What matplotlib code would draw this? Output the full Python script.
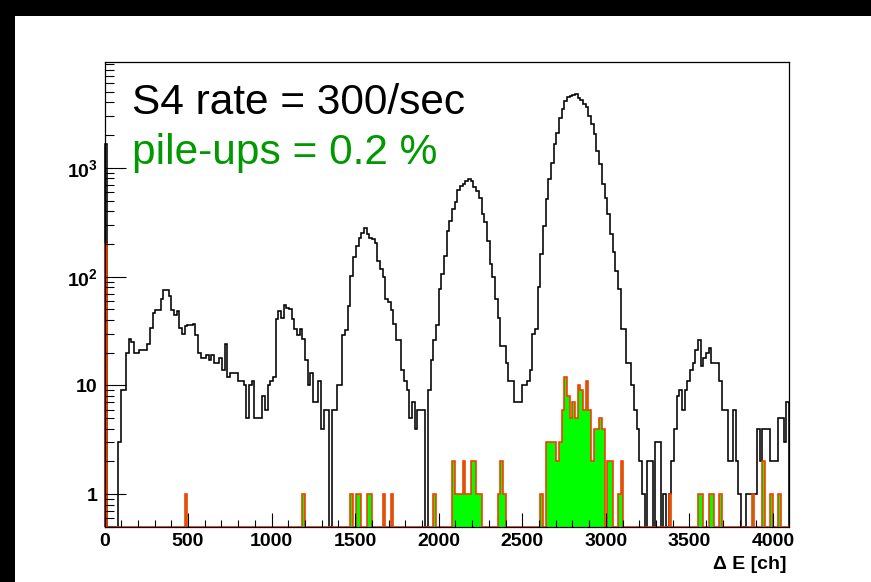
import numpy as np
import matplotlib
matplotlib.use('Agg')
import matplotlib.pyplot as plt
from matplotlib.ticker import MultipleLocator, FixedLocator, NullFormatter
from matplotlib.patches import Rectangle

plt.rcParams['font.family'] = ['Liberation Sans', 'DejaVu Sans']
plt.rcParams['mathtext.fontset'] = 'custom'
plt.rcParams['mathtext.rm'] = 'Liberation Sans:bold'
plt.rcParams['mathtext.bf'] = 'Liberation Sans:bold'
plt.rcParams['mathtext.it'] = 'Liberation Sans:bold'

# ---------------- data ----------------
bin_width = 16          # channels per bin
n_bins = 256            # 0 .. 4096 ch

# all events (black histogram), counts per bin
black_counts = [
    1650, 0, 0, 0, 0, 3, 9, 9, 20, 27, 25, 20, 20, 21, 21, 21,
    24, 34, 46, 49, 49, 62, 76, 76, 67, 49, 44, 48, 34, 30, 35, 36,
    36, 37, 29, 20, 18, 18, 19, 17, 19, 16, 16, 18, 14, 24, 12, 13,
    13, 13, 11, 11, 10, 5, 10, 11, 5, 5, 5, 8, 6, 10, 11, 12,
    41, 48, 42, 55, 52, 50, 41, 33, 29, 33, 27, 17, 10, 13, 7, 7,
    11, 4, 6, 6, 0, 6, 6, 10, 10, 29, 32, 54, 102, 152, 192, 229,
    250, 280, 247, 229, 221, 206, 140, 118, 99, 62, 58, 49, 37, 26, 26, 14,
    11, 9, 5, 7, 4, 6, 6, 6, 0, 9, 17, 26, 36, 77, 106, 156,
    261, 322, 418, 481, 630, 684, 718, 760, 790, 758, 670, 615, 527, 376, 316, 212,
    131, 99, 62, 42, 23, 23, 16, 11, 11, 7, 7, 7, 10, 10, 11, 14,
    30, 33, 80, 161, 294, 516, 787, 1119, 1649, 2110, 2856, 3455, 4119, 4481, 4550, 4677,
    4800, 4430, 4180, 3890, 3650, 3000, 2513, 2037, 1432, 1081, 709, 534, 376, 246, 167, 113,
    77, 33, 33, 16, 16, 10, 6, 4, 2, 1, 0, 2, 2, 0, 3, 3,
    0, 1, 0, 1, 2, 4, 8, 9, 6, 9, 11, 14, 16, 21, 26, 15,
    18, 20, 22, 16, 16, 16, 11, 6, 6, 2, 2, 6, 2, 1, 0, 0,
    1, 1, 1, 1, 4, 2, 4, 4, 4, 2, 2, 2, 5, 5, 3, 7,
]

# pile-up events (green histogram): bin index -> counts
pileup_bins = [0, 30, 74, 92, 94, 95, 98, 99, 104, 107, 123,
               130, 131, 132, 133, 134, 135, 136, 137, 138, 139, 140,
               147, 148, 149, 163,
               165, 166, 167, 168, 169, 170, 171, 172, 173, 174, 175, 176,
               177, 178, 179, 180, 181, 182, 183, 184, 185, 186,
               188, 189, 192, 193, 211, 222, 223, 226, 227, 230, 242, 246, 249, 252]
pileup_vals = [200, 1, 1, 1, 1, 1, 1, 1, 1, 1, 1,
               2, 1, 1, 1, 2, 1, 1, 2, 2, 1, 1,
               1, 2, 1, 1,
               3, 3, 3, 3, 2, 3, 6, 12, 8, 5, 7, 5,
               10, 9, 6, 11, 6, 2, 4, 4, 5, 4,
               2, 2, 1, 2, 1, 1, 1, 1, 1, 1, 1, 2, 1, 1]

x_tick_values = [0, 500, 1000, 1500, 2000, 2500, 3000, 3500, 4000]
y_tick_values = [1, 10, 100, 1000]
y_tick_labels = ['1', '10', r'$\mathbf{10^{2}}$', r'$\mathbf{10^{3}}$']

title_line1 = 'S4 rate = 300/sec'
title_line2 = 'pile-ups = 0.2 %'
x_title = '\u0394 E [ch]'

# ---------------- figure ----------------
W, H = 871, 582
fig = plt.figure(figsize=(W / 100, H / 100), dpi=100)
fig.patch.set_facecolor('white')

# black borders of the screenshot
top_band, left_band = 16, 15
fig.add_artist(Rectangle((0, 1 - top_band / H), 1, top_band / H, transform=fig.transFigure,
                         facecolor='black', edgecolor='none', zorder=0))
fig.add_artist(Rectangle((0, 0), left_band / W, 1, transform=fig.transFigure,
                         facecolor='black', edgecolor='none', zorder=0))

left, right, top, bottom = 104.5, 789, 62, 527
ax = fig.add_axes([left / W, (H - bottom) / H, (right - left) / W, (bottom - top) / H])

ymin, ymax = 0.5, 9400
ax.set_yscale('log')
ax.set_xlim(0, n_bins * bin_width)
ax.set_ylim(ymin, ymax)

edges = np.arange(n_bins + 1) * bin_width
black = np.array(black_counts, dtype=float)
green = np.zeros(n_bins)
green[pileup_bins] = pileup_vals

black_plot = np.where(black > 0, black, ymin)
green_plot = np.where(green > 0, green, ymin)

ax.stairs(black_plot, edges, baseline=ymin, color='black', lw=1.15,
          clip_on=False, zorder=2)
ax.stairs(green_plot, edges, baseline=ymin, fill=True, facecolor='#00ff00',
          edgecolor='none', zorder=2.1)
ax.stairs(green_plot, edges, baseline=ymin, color='#ff3300', lw=1.15,
          clip_on=False, zorder=2.2)

ax.set_axisbelow(False)
for s in ax.spines.values():
    s.set_linewidth(0.9)
    s.set_zorder(3)

ax.set_xticks(x_tick_values, labels=[str(v) for v in x_tick_values], fontweight='bold')
ax.xaxis.set_minor_locator(MultipleLocator(100))
ax.set_yticks(y_tick_values, labels=y_tick_labels, fontweight='bold')
minor_y = [k * 10.0 ** d for d in range(-1, 4) for k in range(2, 10)]
minor_y = [v for v in minor_y if ymin <= v <= ymax]
ax.yaxis.set_minor_locator(FixedLocator(minor_y))
ax.yaxis.set_minor_formatter(NullFormatter())

ax.tick_params(axis='x', which='major', direction='in', length=10, width=0.8,
               labelsize=14, pad=4, top=False)
ax.tick_params(axis='x', which='minor', direction='in', length=5, width=0.8, top=False)
ax.tick_params(axis='y', which='major', direction='in', length=15, width=0.8,
               labelsize=14, pad=5, right=False)
ax.tick_params(axis='y', which='minor', direction='in', length=6.5, width=0.8, right=False)

fig.text(132 / W, 1 - 114 / H, title_line1, fontsize=30.5, color='black',
         ha='left', va='baseline')
fig.text(132 / W, 1 - 164 / H, title_line2, fontsize=30.5, color='#009900',
         ha='left', va='baseline')
fig.text(786 / W, 1 - 569 / H, x_title, fontsize=14, fontweight='bold',
         ha='right', va='baseline')

fig.savefig('out.png', dpi=100)
